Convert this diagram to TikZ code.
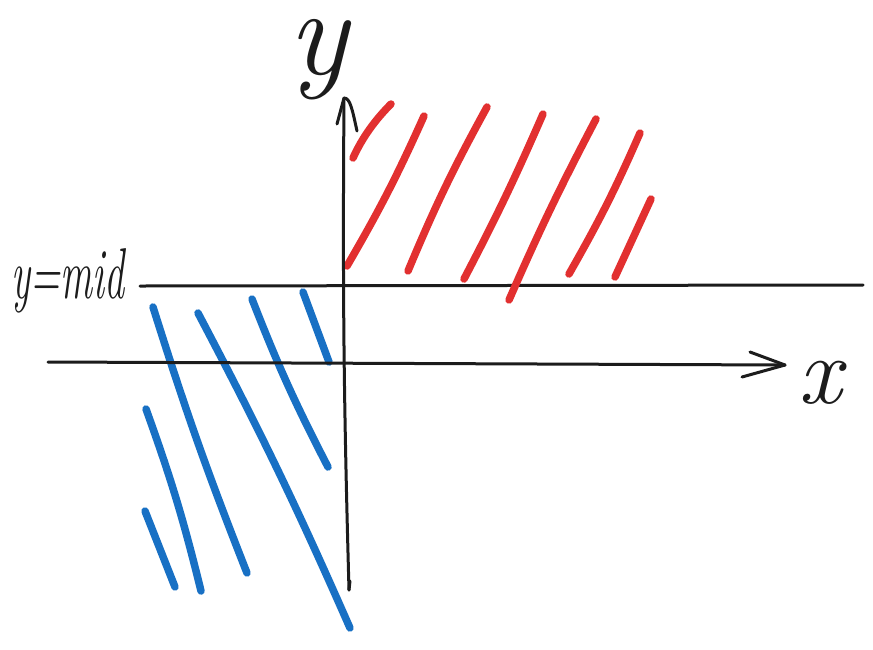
\documentclass[tikz,border=0pt]{standalone}
\usepackage{fontspec}
\definecolor{hatchred}{RGB}{226,48,48}
\definecolor{hatchblue}{RGB}{24,112,196}
\definecolor{ink}{RGB}{28,28,28}
\tikzset{
  axisline/.style={draw=ink, line width=3pt, line cap=round, line join=round},
  redhatch/.style={draw=hatchred, line width=7.5pt, line cap=round},
  bluehatch/.style={draw=hatchblue, line width=7.5pt, line cap=round},
  hand/.style={text=ink, inner sep=0pt, font=\itshape}
}
\begin{document}
\begin{tikzpicture}[x=1pt,y=-1pt]
\useasboundingbox[fill=white] (0,0) rectangle (873,649);
% coordinates
\coordinate (ytop) at (344,98);
\coordinate (ybot) at (349,590);
\coordinate (xl) at (48,362);
\coordinate (xr) at (785,365);
\coordinate (ml) at (140,286);
\coordinate (mr) at (863,285);
% mid line
\draw[axisline] (ml) -- (mr);
% red hatches
\draw[redhatch] (353,158) .. controls (362,138) and (375,120) .. (391,104);
\draw[redhatch] (347,266) to[bend right=3] (424,116);
\draw[redhatch] (408,271) to[bend left=3] (487,107);
\draw[redhatch] (464,279) to[bend right=2] (543,114);
\draw[redhatch] (509,300) to[bend left=2] (596,119);
\draw[redhatch] (569,274) to[bend right=3] (640,133);
\draw[redhatch] (615,277) -- (651,199);
% blue hatches
\draw[bluehatch] (153,307) to[bend right=2] (247,573);
\draw[bluehatch] (198,313) to[bend left=2] (350,628);
\draw[bluehatch] (252,299) to[bend right=3] (328,467);
\draw[bluehatch] (303,292) -- (329,362);
\draw[bluehatch] (146,409) to[bend left=3] (201,591);
\draw[bluehatch] (145,511) -- (175,587);
% axes
\draw[axisline] (xl) -- (xr);
\draw[axisline] (750,352) -- (xr) -- (742,377);
\draw[axisline] (ytop) to[bend right=1] (ybot);
\draw[axisline] (ybot) -- (350,581);
\draw[axisline] (337,124) -- (ytop) .. controls (350,98) and (352,108) .. (357,131);
% labels
\node[hand, font=\itshape\fontsize{125}{125}\selectfont] (ylab) at (318,60) {y};
\node[hand, font=\itshape\fontsize{40}{40}\selectfont, yscale=1.8, anchor=west] (midlab) at (11,281) {y=mid};
\node[hand, font=\itshape\fontsize{96}{96}\selectfont] (xlab) at (820,383) {x};
\end{tikzpicture}
\end{document}
